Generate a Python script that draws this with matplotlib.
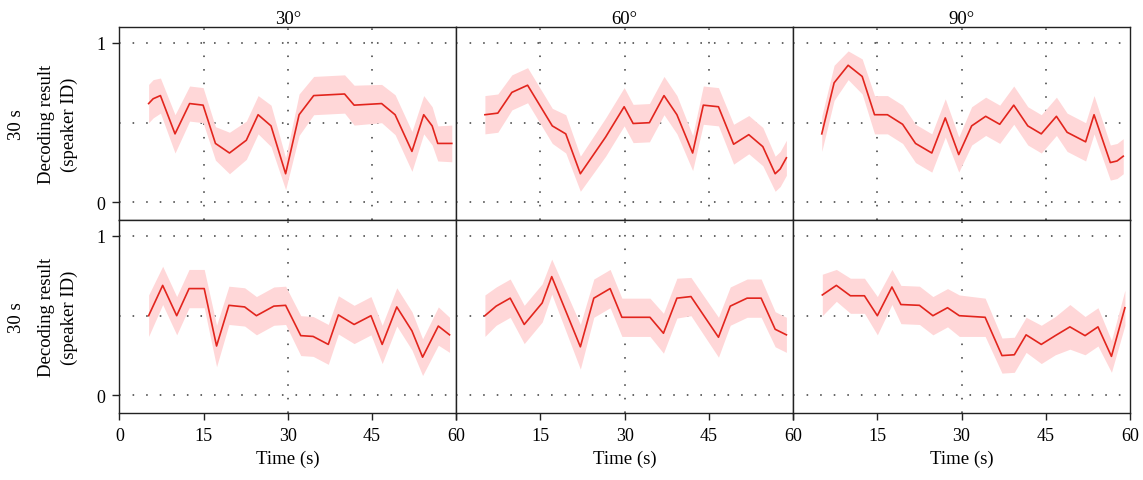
import numpy as np
import matplotlib.pyplot as plt

plt.rcParams['font.family'] = ['Liberation Serif', 'DejaVu Serif']

angles = ['30°', '60°', '90°']
row_labels = ['30 s', '30 s']
x_ticks = [0, 15, 30, 45, 60]

# upper row: time (s), mean decoding result, half width of the band
t_a30 = [5.2, 6.0, 7.3, 9.9, 12.5, 14.9, 17.1, 19.6, 22.6, 24.7, 27.0, 29.6,
         32.0, 34.6, 40.1, 41.8, 46.7, 49.1, 52.1, 54.2, 55.7, 56.7, 59.2]
m_a30 = [0.62, 0.65, 0.67, 0.43, 0.62, 0.61, 0.37, 0.31, 0.39, 0.55, 0.48, 0.18,
         0.55, 0.67, 0.68, 0.61, 0.62, 0.55, 0.32, 0.55, 0.48, 0.37, 0.37]
e_a30 = [0.12, 0.12, 0.11, 0.12, 0.11, 0.11, 0.105, 0.13, 0.12, 0.12, 0.13, 0.10,
         0.13, 0.12, 0.12, 0.125, 0.12, 0.125, 0.125, 0.12, 0.12, 0.11, 0.115]

t_a60 = [5.1, 7.4, 9.9, 12.7, 17.1, 19.5, 22.1, 26.6, 29.9, 31.5, 34.4,
         37.0, 39.3, 42.1, 44.0, 46.7, 49.4, 52.1, 54.6, 56.8, 57.7, 58.8]
m_a60 = [0.55, 0.56, 0.69, 0.735, 0.48, 0.43, 0.18, 0.41, 0.60, 0.495, 0.50,
         0.67, 0.55, 0.31, 0.61, 0.60, 0.365, 0.425, 0.35, 0.18, 0.21, 0.28]
e_a60 = [0.12, 0.12, 0.11, 0.11, 0.11, 0.12, 0.11, 0.12, 0.12, 0.12, 0.12,
         0.12, 0.12, 0.11, 0.12, 0.12, 0.125, 0.12, 0.12, 0.11, 0.11, 0.11]

t_a90 = [5.1, 7.3, 9.8, 12.3, 14.5, 16.8, 19.5, 21.8, 24.7, 27.1, 29.5, 31.8,
         34.3, 36.8, 39.3, 41.8, 44.2, 46.9, 48.8, 52.1, 53.6, 56.5, 57.7, 58.8]
m_a90 = [0.43, 0.75, 0.86, 0.79, 0.55, 0.55, 0.49, 0.37, 0.31, 0.53, 0.30, 0.48,
         0.54, 0.49, 0.61, 0.48, 0.43, 0.54, 0.44, 0.38, 0.55, 0.25, 0.26, 0.29]
e_a90 = [0.11, 0.11, 0.09, 0.11, 0.12, 0.12, 0.12, 0.12, 0.12, 0.12, 0.11, 0.12,
         0.12, 0.12, 0.12, 0.12, 0.12, 0.12, 0.12, 0.12, 0.12, 0.11, 0.11, 0.11]

# lower row
t_b30 = [5.2, 7.7, 10.2, 12.4, 15.1, 17.3, 19.5, 22.3, 24.4, 27.5, 29.6, 32.3,
         34.5, 37.2, 39.0, 41.8, 44.8, 46.8, 49.4, 52.1, 54.0, 56.8, 58.8]
m_b30 = [0.50, 0.69, 0.50, 0.67, 0.67, 0.31, 0.565, 0.555, 0.50, 0.56, 0.565, 0.375,
         0.37, 0.32, 0.505, 0.445, 0.50, 0.32, 0.555, 0.405, 0.24, 0.435, 0.38]
e_b30 = [0.13, 0.12, 0.12, 0.12, 0.12, 0.13, 0.12, 0.12, 0.12, 0.12, 0.12, 0.125,
         0.125, 0.125, 0.12, 0.12, 0.12, 0.12, 0.12, 0.12, 0.115, 0.12, 0.11]

t_b60 = [5.1, 7.1, 9.6, 12.1, 15.3, 17.0, 22.1, 24.5, 27.4, 29.5,
         34.5, 36.9, 39.3, 41.8, 46.7, 48.8, 51.8, 54.3, 56.8, 58.8]
m_b60 = [0.50, 0.56, 0.61, 0.445, 0.58, 0.745, 0.305, 0.61, 0.67, 0.49,
         0.49, 0.39, 0.61, 0.62, 0.365, 0.56, 0.61, 0.61, 0.415, 0.38]
e_b60 = [0.13, 0.12, 0.12, 0.12, 0.12, 0.11, 0.14, 0.12, 0.12, 0.12,
         0.12, 0.125, 0.125, 0.12, 0.125, 0.12, 0.12, 0.12, 0.11, 0.11]

t_b90 = [5.2, 7.7, 10.2, 12.7, 15.0, 17.6, 19.2, 22.5, 24.9, 27.5, 29.6,
         34.2, 37.2, 39.4, 41.5, 44.2, 46.7, 49.3, 52.0, 54.3, 56.7, 59.1]
m_b90 = [0.63, 0.69, 0.625, 0.625, 0.50, 0.68, 0.57, 0.565, 0.50, 0.55, 0.50,
         0.49, 0.25, 0.255, 0.38, 0.32, 0.375, 0.43, 0.375, 0.43, 0.245, 0.55]
e_b90 = [0.13, 0.10, 0.11, 0.11, 0.12, 0.11, 0.12, 0.12, 0.12, 0.12, 0.13,
         0.12, 0.11, 0.11, 0.11, 0.12, 0.12, 0.14, 0.12, 0.12, 0.10, 0.11]

series = [[(t_a30, m_a30, e_a30), (t_a60, m_a60, e_a60), (t_a90, m_a90, e_a90)],
          [(t_b30, m_b30, e_b30), (t_b60, m_b60, e_b60), (t_b90, m_b90, e_b90)]]

line_col = '#e2251d'
band_col = '#ffd7d8'
grid_kw = dict(color='#444444', lw=1.15, ls=(0, (1, 7.5)), zorder=0)

fig, axes = plt.subplots(2, 3, figsize=(11.43, 4.81), dpi=100,
                         gridspec_kw=dict(hspace=0, wspace=0))
fig.subplots_adjust(left=0.1045, right=0.9886, top=0.9418, bottom=0.1393)

for r in range(2):
    for c in range(3):
        ax = axes[r, c]
        t, m, e = (np.array(a) for a in series[r][c])
        ax.fill_between(t, m - e, m + e, color=band_col, lw=0, zorder=1)
        ax.plot(t, m, color=line_col, lw=1.2, zorder=2)

        ax.set_xlim(0, 60)
        ax.set_ylim(-0.11, 1.1)

        # dotted grid
        for y in [0, 0.5, 1]:
            ax.axhline(y, **grid_kw)
        for x in ([15, 30, 45] if r == 0 else [30]):
            ax.axvline(x, **grid_kw)

        for s in ax.spines.values():
            s.set_linewidth(1.0)
            s.set_color('#222222')

        ax.tick_params(direction='out', length=5, width=1.0, labelsize=13,
                       color='#222222', pad=5)
        ax.set_yticks([0, 1])
        ax.set_xticks(x_ticks)
        if c == 0:
            ax.set_yticklabels(['0', '1'])
        else:
            ax.tick_params(left=False, labelleft=False)
        if r == 1:
            labels = [str(v) for v in x_ticks]
            if c > 0:
                labels[0] = ''
            ax.set_xticklabels(labels)
            ax.set_xlabel('Time (s)', fontsize=13.5, labelpad=4)
        else:
            ax.tick_params(bottom=False, labelbottom=False)
            ax.set_title(angles[c], fontsize=13.5, pad=3)

    # row label
    ax0 = axes[r, 0]
    ax0.text(-0.305, 0.5, row_labels[r], transform=ax0.transAxes,
             rotation=90, ha='center', va='center', fontsize=13.5)
    ax0.text(-0.218, 0.5, 'Decoding result', transform=ax0.transAxes,
             rotation=90, ha='center', va='center', fontsize=13.5)
    ax0.text(-0.150, 0.5, '(speaker ID)', transform=ax0.transAxes,
             rotation=90, ha='center', va='center', fontsize=13.5)

fig.savefig('out.png', dpi=100)
